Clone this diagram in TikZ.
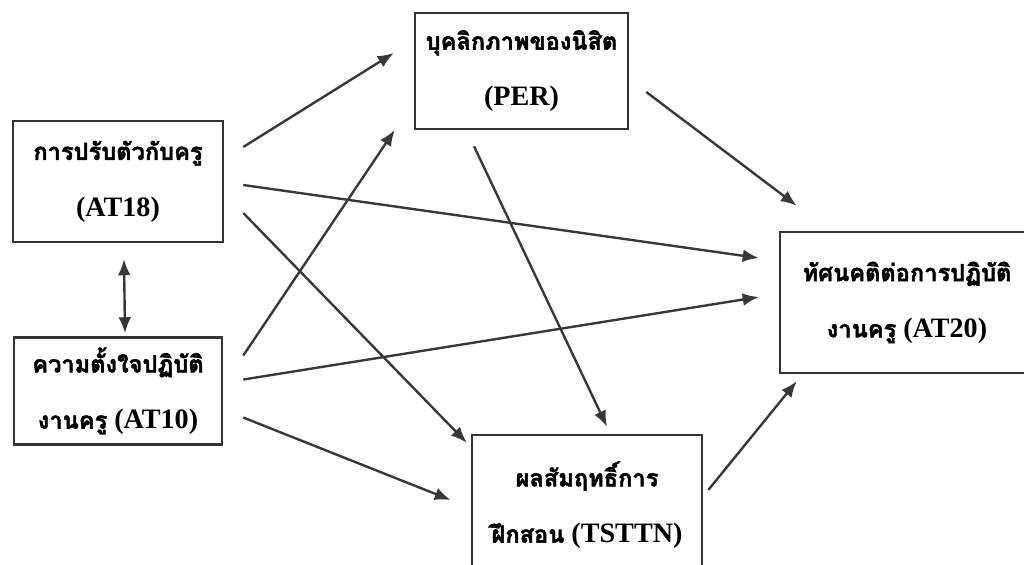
\documentclass[tikz,border=0pt]{standalone}
\usepackage{fontspec}
\setmainfont{Liberation Serif}
\newfontfamily\thaifont[Script=Thai,FakeBold=1.8,Scale=0.84]{Loma}
\usepackage{tikz}
\usetikzlibrary{arrows.meta,positioning,calc}

\begin{document}
\begin{tikzpicture}[
        varbox/.style={rectangle,draw=black!80,line width=1.8pt,align=center,inner sep=0pt,font=\fontsize{20}{40}\selectfont\bfseries},
        arrow/.style={-{Latex[length=4mm,width=3.2mm]},draw=black!78,line width=1.7pt},
        both/.style={{Latex[length=4mm,width=3.2mm]}-{Latex[length=4mm,width=3.2mm]},draw=black!78,line width=1.7pt},
    ]
    \clip (0,0) rectangle (25.6,14.1);
    % === variables ===
    \node[varbox,minimum width=5.25cm,minimum height=3.025cm] (at18) at (2.95,9.5625) {{\thaifont การปรับตัวกับครู}\\(AT18)};
    \node[varbox,minimum width=5.2cm,minimum height=2.675cm,below=2.325cm of at18] (at10) {{\thaifont ความตั้งใจปฏิบัติ}\\{\thaifont งานครู} (AT10)};
    \node[varbox,minimum width=5.325cm,minimum height=2.9cm] (per) at (13.0375,12.325) {{\thaifont บุคลิกภาพของนิสิต}\\(PER)};
    \node[varbox,minimum width=6.35cm,minimum height=3.525cm] (at20) at (22.675,6.5375) {{\thaifont ทัศนคติต่อการปฏิบัติ}\\{\thaifont งานครู} (AT20)};
    \node[varbox,minimum width=5.75cm,minimum height=3.5cm] (tsttn) at (14.675,1.475) {{\thaifont ผลสัมฤทธิ์การ}\\{\thaifont ฝึกสอน} (TSTTN)};

    % === paths ===
    \draw[both] ([shift={(0.15,-0.4)}]at18.south) -- ([shift={(0.175,0.075)}]at10.north);
    \draw[arrow] ([shift={(0.475,0.8625)}]at18.east) -- ([shift={(-0.5,0.45)}]per.west);
    \draw[arrow] ([shift={(0.475,-0.0875)}]at18.east) -- ([shift={(-0.5,1.1125)}]at20.west);
    \draw[arrow] ([shift={(0.475,-0.7875)}]at18.east) -- ([shift={(-0.1,-0.225)}]tsttn.north west);
    \draw[arrow] ([shift={(0.5,0.8875)}]at10.east) -- ([shift={(-0.475,-1.475)}]per.west);
    \draw[arrow] ([shift={(0.5,0.2875)}]at10.east) -- ([shift={(-0.5,0.1375)}]at20.west);
    \draw[arrow] ([shift={(0.5,-0.6625)}]at10.east) -- ([shift={(-0.5,0.125)}]tsttn.west);
    \draw[arrow] ([shift={(-1.1875,-0.4)}]per.south) -- ([shift={(0.5,0.175)}]tsttn.north);
    \draw[arrow] ([shift={(0.425,-0.525)}]per.east) -- ([shift={(0.45,0.625)}]at20.north west);
    \draw[arrow] ([shift={(0.125,0.375)}]tsttn.east) -- ([shift={(0.45,-0.175)}]at20.south west);
    \end{tikzpicture}
\end{document}
